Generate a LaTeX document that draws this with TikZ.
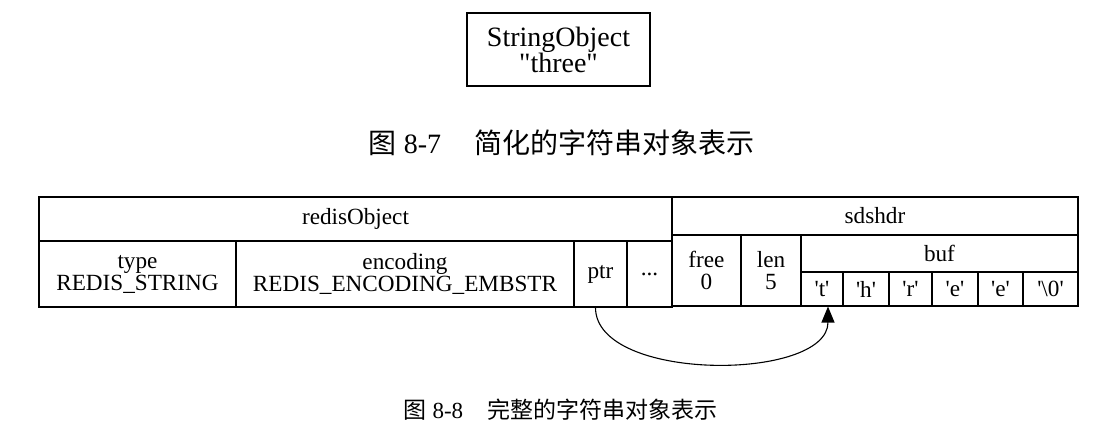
\documentclass[tikz,border=0pt]{standalone}
\usepackage{fontspec}
\setmainfont{Liberation Serif}[Ligatures=TeXOff]
\newfontfamily\cjk{Noto Sans CJK SC}
\usetikzlibrary{arrows.meta}

\begin{document}
\begin{tikzpicture}[x=0.5pt,y=-0.5pt,
  cell/.style={draw,line width=0.55pt,inner sep=0pt,align=center,font=\fontsize{11.6}{11}\selectfont}]
 \useasboundingbox (0,0) rectangle (1100,443);
 % simple form
 \node[cell,minimum width=91.5pt,minimum height=36.5pt,font=\fontsize{14}{13}\selectfont] (strobj) at (558.5,49.5) {StringObject\\"three"};
 \node[font=\fontsize{14}{14}\selectfont] (capseven) at (561.5,143) {{\cjk 图} 8-7\hspace{16.5pt}{\cjk 简化的字符串对象表示}};
 % redisObject
 \node[cell,minimum width=316.5pt,minimum height=22pt] (robj) at (355.5,219) {redisObject};
 \node[cell,minimum width=98.5pt,minimum height=33pt] (type) at (137.5,274) {type\\REDIS\_STRING};
 \node[cell,minimum width=169pt,minimum height=33pt] (enc) at (405,274) {encoding\\REDIS\_ENCODING\_EMBSTR};
 \node[cell,minimum width=26.5pt,minimum height=33pt] (ptr) at (600.5,274) {ptr};
 \node[cell,minimum width=22.5pt,minimum height=33pt] (dots) at (649.5,274) {...};
 % sdshdr
 \node[cell,minimum width=203pt,minimum height=19pt] (sds) at (875,216) {sdshdr};
 \node[cell,minimum width=34.5pt,minimum height=35.5pt] (free) at (706.5,270.5) {free\\0};
 \node[cell,minimum width=30pt,minimum height=35.5pt] (len) at (771,270.5) {len\\5};
 \node[cell,minimum width=138.5pt,minimum height=18.5pt] (buf) at (939.5,253.5) {buf};
 \node[cell,minimum width=21pt,minimum height=17pt] (bt) at (822,289) {'t'};
 \node[cell,minimum width=23pt,minimum height=17pt] (bh) at (866,289) {'h'};
 \node[cell,minimum width=21.5pt,minimum height=17pt] (br) at (910.5,289) {'r'};
 \node[cell,minimum width=23pt,minimum height=17pt] (be) at (955,289) {'e'};
 \node[cell,minimum width=22.5pt,minimum height=17pt] (bee) at (1000.5,289) {'e'};
 \node[cell,minimum width=27.5pt,minimum height=17pt] (bnul) at (1050.5,289) {'\textbackslash 0'};
 \draw[line width=0.55pt,-{Triangle[length=8pt,width=6.5pt]}] ([xshift=-2.5pt]ptr.south) .. controls +(0,75) and +(0,75) .. ([xshift=3pt]bt.south);
 \node[font=\fontsize{11.5}{11.5}\selectfont] (capeight) at (560.5,410) {{\cjk 图} 8-8\hspace{12pt}{\cjk 完整的字符串对象表示}};
\end{tikzpicture}
\end{document}
